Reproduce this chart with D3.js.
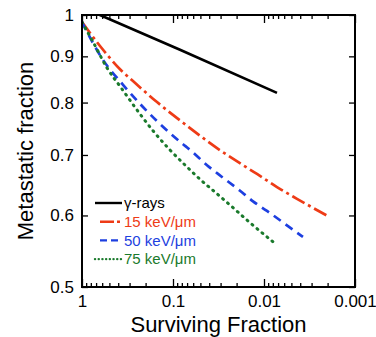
<html>
<head>
    <script src="https://cdn.jsdelivr.net/npm/d3@7"></script>
    <style>
        body {
            margin: 0;
            font-family: "Liberation Sans", Arial, Helvetica, sans-serif;
            background: white;
        }
    </style>
</head>
<body>
<svg id="chart"></svg>
<script>
    // values: [surviving fraction, metastatic fraction]
    let gammaRays = [[1, 1.02], [0.0838, 0.915], [0.0072, 0.82]];
    let let15 = [[1, 0.982], [0.634, 0.924], [0.382, 0.871], [0.2752, 0.845], [0.1499, 0.801], [0.0777, 0.760],
                 [0.0468, 0.731], [0.032, 0.711], [0.0170, 0.682], [0.01194, 0.667], [0.0072, 0.645],
                 [0.00434, 0.626], [0.00198, 0.599]];
    let let50 = [[1, 0.982], [0.588, 0.892], [0.354, 0.837], [0.2137, 0.791], [0.1499, 0.763], [0.1079, 0.740],
                 [0.0838, 0.724], [0.0618, 0.706], [0.0423, 0.682], [0.032, 0.667], [0.01835, 0.639],
                 [0.0132, 0.622], [0.00927, 0.607], [0.00545, 0.584], [0.00373, 0.568]];
    let let75 = [[1, 0.982], [0.757, 0.934], [0.531, 0.874], [0.363, 0.828], [0.2305, 0.777], [0.1577, 0.740],
                 [0.1079, 0.709], [0.0702, 0.679], [0.0505, 0.658], [0.0328, 0.634], [0.0219, 0.612],
                 [0.01425, 0.589], [0.00796, 0.561]];

    let seriesNames = ["γ-rays", "15 keV/μm", "50 keV/μm", "75 keV/μm"];
    let xTicks = [1, 0.1, 0.01, 0.001];
    let yTicks = [1, 0.9, 0.8, 0.7, 0.6, 0.5];

    function getConfig() {
        let width = 376;
        let height = 337;
        let margin = {top: 15, bottom: 50, left: 82, right: 21};
        let bodyWidth = width - margin.left - margin.right;
        let bodyHeight = height - margin.top - margin.bottom;
        let container = d3.select("#chart")
            .attr("width", width)
            .attr("height", height);
        return {width, height, margin, bodyWidth, bodyHeight, container};
    }

    function getScales(config) {
        let {margin, bodyWidth, bodyHeight} = config;
        let xScale = d3.scaleLog()
            .domain([1, 0.001])
            .range([margin.left, margin.left + bodyWidth]);
        let yScale = d3.scaleLog()
            .domain([0.5, 1])
            .range([margin.top + bodyHeight, margin.top]);
        return {xScale, yScale};
    }

    function drawLines(scales, config) {
        let {container, margin, bodyWidth, bodyHeight} = config;
        let {xScale, yScale} = scales;

        container.append("clipPath").attr("id", "clip")
            .append("rect")
            .attr("x", margin.left).attr("y", margin.top)
            .attr("width", bodyWidth).attr("height", bodyHeight);

        let line = d3.line()
            .x(d => xScale(d[0]))
            .y(d => yScale(d[1]))
            .curve(d3.curveMonotoneX);

        let series = [
            {data: gammaRays, color: "#000000", dash: null, cap: "butt"},
            {data: let15, color: "#ee3b16", dash: "14,4,3,4", cap: "butt"},
            {data: let50, color: "#1d3fe0", dash: "8.5,6", cap: "butt"},
            {data: let75, color: "#1a7a2c", dash: "1,5.5", cap: "round"}
        ];

        container.append("g")
            .attr("clip-path", "url(#clip)")
            .selectAll("path")
            .data(series)
            .enter().append("path")
            .attr("d", d => line(d.data))
            .attr("fill", "none")
            .attr("stroke", d => d.color)
            .attr("stroke-width", d => d.cap == "round" ? 3 : 2.7)
            .attr("stroke-linecap", d => d.cap)
            .attr("stroke-dasharray", d => d.dash);

        // legend
        let legend = container.selectAll(".legend")
            .data(series)
            .enter().append("g")
            .attr("class", "legend")
            .attr("transform", (d, i) => `translate(0,${203 + i * 18.7})`);

        legend.append("line")
            .attr("x1", (d, i) => i == 0 || i == 3 ? 95 : 100)
            .attr("x2", 122)
            .attr("y1", 0).attr("y2", 0)
            .attr("stroke", d => d.color)
            .attr("stroke-width", 2.4)
            .attr("stroke-linecap", d => d.cap)
            .attr("stroke-dasharray", (d, i) => i == 1 ? "14,3,3,3" : (i == 2 ? "7,4" : (i == 3 ? "0.1,3.6" : null)));

        legend.append("text")
            .attr("x", 124)
            .attr("y", 0)
            .attr("dy", ".35em")
            .style("font-size", "15px")
            .attr("fill", d => d.color == "#000000" ? "#000" : d.color)
            .text((d, i) => seriesNames[i]);
    }

    function drawAxes(scales, config) {
        let {container, margin, bodyWidth, bodyHeight, width, height} = config;
        let {xScale, yScale} = scales;
        let bottom = margin.top + bodyHeight;
        let right = margin.left + bodyWidth;

        let minorX = [];
        for (let p = 0; p < 3; p++) {
            for (let k = 2; k <= 9; k++) minorX.push(k * Math.pow(10, -p - 1));
        }

        // bottom axis, ticks pointing inward
        let axisBottom = d3.axisBottom(xScale)
            .tickValues(xTicks)
            .tickSize(-8)
            .tickPadding(8)
            .tickFormat(d => d3.format("~g")(d));
        let gB = container.append("g")
            .attr("transform", `translate(0,${bottom})`)
            .call(axisBottom);
        gB.select(".domain").remove();
        gB.selectAll("text").style("font-size", "17px").attr("fill", "#000");

        container.append("g")
            .attr("transform", `translate(0,${bottom})`)
            .call(d3.axisBottom(xScale).tickValues(minorX).tickSize(-4).tickFormat(""))
            .select(".domain").remove();

        // top axis
        let gT = container.append("g")
            .attr("transform", `translate(0,${margin.top})`)
            .call(d3.axisTop(xScale).tickValues(xTicks).tickSize(-8).tickFormat(""));
        gT.select(".domain").remove();
        container.append("g")
            .attr("transform", `translate(0,${margin.top})`)
            .call(d3.axisTop(xScale).tickValues(minorX).tickSize(-4).tickFormat(""))
            .select(".domain").remove();

        // left axis
        let gL = container.append("g")
            .attr("transform", `translate(${margin.left},0)`)
            .call(d3.axisLeft(yScale).tickValues(yTicks).tickSize(-6).tickPadding(8)
                .tickFormat(d => d3.format("~g")(d)));
        gL.select(".domain").remove();
        gL.selectAll("text").style("font-size", "17px").attr("fill", "#000");

        // right axis
        let gR = container.append("g")
            .attr("transform", `translate(${right},0)`)
            .call(d3.axisRight(yScale).tickValues(yTicks).tickSize(-6).tickFormat(""));
        gR.select(".domain").remove();

        container.selectAll(".tick line").attr("stroke", "#000").attr("stroke-width", 1.3);

        // frame
        container.append("rect")
            .attr("x", margin.left).attr("y", margin.top)
            .attr("width", bodyWidth).attr("height", bodyHeight)
            .attr("fill", "none")
            .attr("stroke", "#000")
            .attr("stroke-width", 2);

        container.append("text")
            .attr("x", margin.left + bodyWidth / 2)
            .attr("y", 332)
            .style("text-anchor", "middle")
            .style("font-size", "22px")
            .text("Surviving Fraction");

        container.append("text")
            .attr("transform", `translate(33,${margin.top + bodyHeight / 2}) rotate(-90)`)
            .style("text-anchor", "middle")
            .style("font-size", "22px")
            .text("Metastatic fraction");
    }

    let config = getConfig();
    let scales = getScales(config);
    drawLines(scales, config);
    drawAxes(scales, config);
</script>
</body>
</html>
